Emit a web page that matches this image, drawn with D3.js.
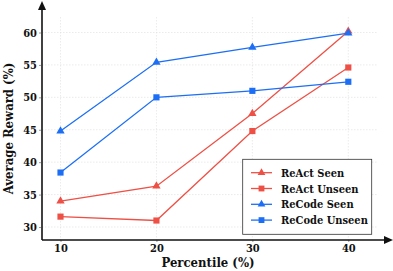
<!DOCTYPE html>
<html><head><meta charset="utf-8">
<script src="https://cdn.jsdelivr.net/npm/d3@7"></script>
<style>body{margin:0;background:#fff}svg{display:block}text{font-family:"DejaVu Serif Condensed","DejaVu Serif",serif;font-stretch:condensed;font-weight:bold;fill:#111}</style>
</head><body><svg id="c" width="393" height="271"></svg>
<script>
const percentiles = [10, 20, 30, 40];
const reactSeen = [34.0, 36.3, 47.5, 60.2];
const reactUnseen = [31.6, 31.0, 44.8, 54.6];
const recodeSeen = [44.8, 55.4, 57.7, 59.9];
const recodeUnseen = [38.4, 50.0, 51.0, 52.4];
const yTicks = [30, 35, 40, 45, 50, 55, 60];
const seriesNames = ["ReAct Seen", "ReAct Unseen", "ReCode Seen", "ReCode Unseen"];

const red = "#ee5045", blue = "#1c6ff5";
const series = [
  {name: seriesNames[0], vals: reactSeen, color: red, sym: d3.symbolTriangle},
  {name: seriesNames[1], vals: reactUnseen, color: red, sym: d3.symbolSquare},
  {name: seriesNames[2], vals: recodeSeen, color: blue, sym: d3.symbolTriangle},
  {name: seriesNames[3], vals: recodeUnseen, color: blue, sym: d3.symbolSquare}
];

const svg = d3.select("#c");
const L = 42, B = 240;
const x = d3.scaleLinear().domain([10, 40]).range([60.5, 348.3]);
const y = d3.scaleLinear().domain([30, 60]).range([227, 32.5]);
const gridTop = 17, gridRight = 377;

// grid
const g = svg.append("g");
g.selectAll(".hg").data(yTicks).join("line")
  .attr("x1", L).attr("x2", gridRight).attr("y1", d => y(d)).attr("y2", d => y(d))
  .attr("stroke", "#ddd").attr("stroke-width", 0.6).attr("stroke-dasharray", "1.5,1.5");
g.selectAll(".vg").data(percentiles).join("line")
  .attr("y1", gridTop).attr("y2", B).attr("x1", d => x(d)).attr("x2", d => x(d))
  .attr("stroke", "#ddd").attr("stroke-width", 0.6).attr("stroke-dasharray", "1.5,1.5");

// axes
const xa = svg.append("g").attr("transform", `translate(0,${B})`)
  .call(d3.axisBottom(x).tickValues(percentiles).tickSize(2).tickPadding(2));
xa.select(".domain").remove();
xa.selectAll(".tick line").attr("stroke", "#999");
xa.selectAll("text").attr("font-size", 11);
const ya = svg.append("g").attr("transform", `translate(${L-1},0)`)
  .call(d3.axisLeft(y).tickValues(yTicks).tickSize(2).tickPadding(2));
ya.select(".domain").remove();
ya.selectAll(".tick line").attr("stroke", "#999");
ya.selectAll("text").attr("font-size", 11);

svg.append("line").attr("x1", L).attr("x2", 385).attr("y1", B).attr("y2", B).attr("stroke", "#111").attr("stroke-width", 1.6);
svg.append("line").attr("x1", L).attr("x2", L).attr("y1", B).attr("y2", 9).attr("stroke", "#111").attr("stroke-width", 1.6);
svg.append("path").attr("d", `M${L-4},10 L${L},1 L${L+4},10 Z`).attr("fill", "#111");
svg.append("path").attr("d", `M384,${B-4} L393,${B} L384,${B+4} Z`).attr("fill", "#111");

// labels
svg.append("text").attr("x", 208).attr("y", 267).attr("text-anchor", "middle").attr("font-size", 13).text("Percentile (%)");
svg.append("text").attr("transform", `translate(12.5,128.5) rotate(-90)`).attr("text-anchor", "middle").attr("font-size", 13).text("Average Reward (%)");

// lines
const line = d3.line().x((d, i) => x(percentiles[i])).y(d => y(d));
series.forEach(s => {
  svg.append("path").attr("d", line(s.vals)).attr("fill", "none").attr("stroke", s.color).attr("stroke-width", 1.3);
  svg.selectAll(null).data(s.vals).join("path")
    .attr("transform", (d, i) => `translate(${x(percentiles[i])},${y(d)})`)
    .attr("d", d3.symbol(s.sym, s.sym === d3.symbolSquare ? 38 : 30)())
    .attr("fill", s.color);
});

// legend
const lg = svg.append("g");
lg.append("rect").attr("x", 242.7).attr("y", 159.3).attr("width", 129).attr("height", 75)
  .attr("fill", "#fff").attr("stroke", "#333").attr("stroke-width", 0.8);
series.forEach((s, i) => {
  const yy = 172.7 + i * 15.8;
  lg.append("line").attr("x1", 251).attr("x2", 272).attr("y1", yy).attr("y2", yy).attr("stroke", s.color).attr("stroke-width", 1.3);
  lg.append("path").attr("transform", `translate(261.5,${yy})`).attr("d", d3.symbol(s.sym, s.sym === d3.symbolSquare ? 34 : 26)()).attr("fill", s.color);
  lg.append("text").attr("x", 281).attr("y", yy + 4).attr("font-size", 11).text(s.name);
});
</script></body></html>
